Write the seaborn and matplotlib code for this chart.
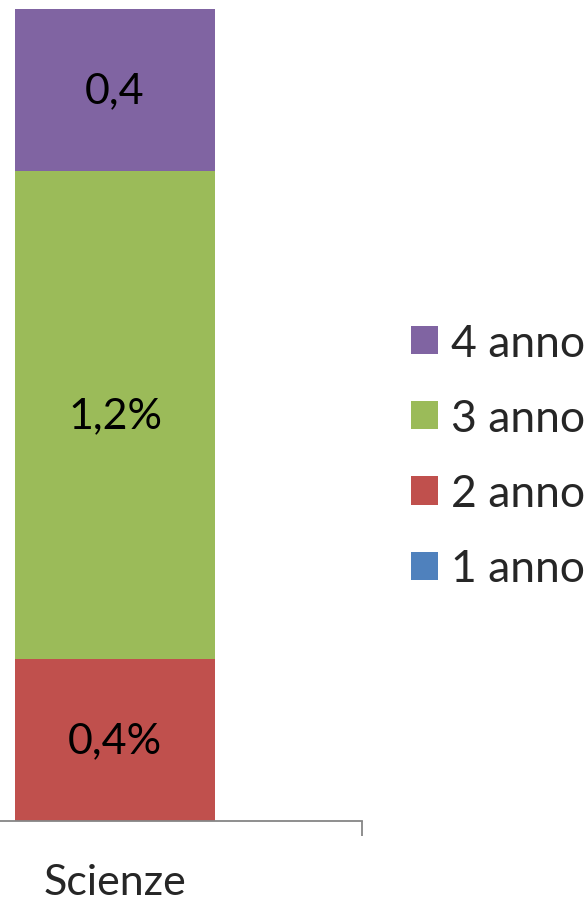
import matplotlib
matplotlib.use("Agg")
import matplotlib.pyplot as plt
from matplotlib.patches import Patch
import seaborn as sns

# data
category = "Scienze"
series = ["1 anno", "2 anno", "3 anno", "4 anno"]
values = [0.0, 0.4, 1.2, 0.4]
value_labels = ["", "0,4%", "1,2%", "0,4"]
colors = ["#4F81BD", "#C0504D", "#9BBB59", "#8064A2"]

sns.set_theme(style="white")
plt.rcParams["font.family"] = ["Lato", "DejaVu Sans"]

fig = plt.figure(figsize=(5.87, 9.03), dpi=100)
# axes spans x 0..362 px, y 10..822 px
ax = fig.add_axes([0.0, 81 / 903, 362 / 587, 812 / 903])

bottom = 0.0
for name, val, lab, col in zip(series, values, value_labels, colors):
    sns.barplot(x=[category], y=[val], bottom=bottom, color=col, width=0.403,
                saturation=1, ax=ax, linewidth=0)
    if lab:
        ax.text(0, bottom + val / 2, lab, ha="center", va="center",
                fontsize=31, color="black")
    bottom += val

ax.set_xlim(-0.5 + 132 / 494, 0.5)
ax.set_ylim(0, 2.0)
ax.set_yticks([])
ax.set_xlabel("")
ax.set_ylabel("")
for s in ["top", "right", "left"]:
    ax.spines[s].set_visible(False)
ax.spines["bottom"].set_color("#868686")
ax.spines["bottom"].set_linewidth(1.3)

ax.set_xticks([0])
ax.set_xticklabels([category], fontsize=31)
ax.tick_params(axis="x", which="major", length=0, pad=30)
ax.set_xticks([0.5], minor=True)
ax.tick_params(axis="x", which="minor", length=11, width=1.3, color="#868686",
               direction="out", bottom=True)

handles = [Patch(facecolor=c, edgecolor="none", label=n)
           for n, c in zip(series, colors)][::-1]
fig.legend(handles=handles, loc="center left", bbox_to_anchor=(411 / 587, 1 - 457 / 903),
           frameon=False, fontsize=32, handlelength=0.6, handleheight=0.6,
           handletextpad=0.3, labelspacing=0.77, borderaxespad=0, borderpad=0)

fig.savefig("out.png", dpi=100)
